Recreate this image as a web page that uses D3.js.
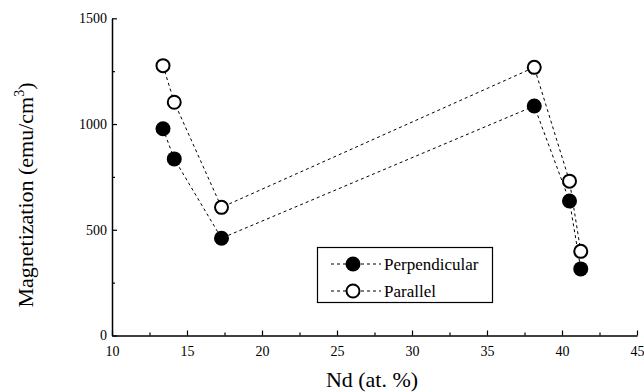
<!DOCTYPE html>
<html>
<head>
<meta charset="utf-8">
<script src="https://cdn.jsdelivr.net/npm/d3@7"></script>
<style>
  body { margin: 0; background: #fff; }
  svg text { font-family: "Liberation Serif", "DejaVu Serif", serif; }
</style>
</head>
<body>
<div id="chart"></div>
<script>
// values
const ndPerp = [13.4, 14.15, 17.3, 38.15, 40.5, 41.25];
const magPerp = [978, 835, 460, 1085, 636, 315];
const ndPar = [13.4, 14.15, 17.3, 38.15, 40.5, 41.25];
const magPar = [1276, 1103, 606, 1268, 730, 398];
const xMajor = [10, 15, 20, 25, 30, 35, 40, 45];
const xMinor = [12.5, 17.5, 22.5, 27.5, 32.5, 37.5, 42.5];
const yMajor = [0, 500, 1000, 1500];
const yMinor = [250, 750, 1250];

const W = 644, H = 392;
const serif = "'Liberation Serif', 'DejaVu Serif', serif";

const svg = d3.select("#chart")
    .append("svg")
    .attr("width", W)
    .attr("height", H)
    .attr("font-family", serif);

const x = d3.scaleLinear().domain([10, 45]).range([112, 637]);
const y = d3.scaleLinear().domain([0, 1500]).range([335.5, 18.3]);

// minor ticks first (no labels)
svg.append("g")
    .attr("transform", `translate(0,${y(0)})`)
    .call(d3.axisBottom(x).tickValues(xMinor).tickSize(-3).tickSizeOuter(0).tickFormat(""))
    .call(g => g.select(".domain").remove());
svg.append("g")
    .attr("transform", `translate(${x(10)},0)`)
    .call(d3.axisLeft(y).tickValues(yMinor).tickSize(-3).tickSizeOuter(0).tickFormat(""))
    .call(g => g.select(".domain").remove());

// major axes
const xAxis = svg.append("g")
    .attr("transform", `translate(0,${y(0)})`)
    .call(d3.axisBottom(x).tickValues(xMajor).tickSize(-5).tickSizeOuter(0)
        .tickPadding(11).tickFormat(d3.format("d")));
const yAxis = svg.append("g")
    .attr("transform", `translate(${x(10)},0)`)
    .call(d3.axisLeft(y).tickValues(yMajor).tickSize(-5).tickSizeOuter(0)
        .tickPadding(5).tickFormat(d3.format("d")));

svg.selectAll("g").attr("font-family", serif);
svg.selectAll(".tick line").attr("stroke", "#000").attr("stroke-width", 1.2);
svg.selectAll(".domain").attr("stroke", "#000").attr("stroke-width", 1.5);
[xAxis, yAxis].forEach(g => g
    .attr("font-size", 14)
    .selectAll("text")
    .attr("fill", "#000"));

// axis titles
svg.append("text")
    .attr("x", 372)
    .attr("y", 387)
    .attr("text-anchor", "middle")
    .attr("font-size", 22)
    .text("Nd (at. %)");

const yt = svg.append("text")
    .attr("transform", "translate(33,195) rotate(-90)")
    .attr("text-anchor", "middle")
    .attr("font-size", 22);
yt.append("tspan").text("Magnetization (emu/cm");
yt.append("tspan").attr("dy", -9).attr("font-size", 14).text("3");
yt.append("tspan").attr("dy", 9).text(")");

// series
const perp = ndPerp.map((d, i) => ({ nd: d, m: magPerp[i] }));
const par = ndPar.map((d, i) => ({ nd: d, m: magPar[i] }));

const line = d3.line()
    .x(d => x(d.nd))
    .y(d => y(d.m));

[perp, par].forEach(s => {
    svg.append("path")
        .datum(s)
        .attr("fill", "none")
        .attr("stroke", "#000")
        .attr("stroke-width", 1)
        .attr("stroke-dasharray", "3,3")
        .attr("d", line);
});

svg.selectAll(".perp")
    .data(perp)
    .enter()
    .append("circle")
    .attr("class", "perp")
    .attr("cx", d => x(d.nd))
    .attr("cy", d => y(d.m))
    .attr("r", 7.5)
    .attr("fill", "#000");

svg.selectAll(".par")
    .data(par)
    .enter()
    .append("circle")
    .attr("class", "par")
    .attr("cx", d => x(d.nd))
    .attr("cy", d => y(d.m))
    .attr("r", 6.5)
    .attr("fill", "#fff")
    .attr("stroke", "#000")
    .attr("stroke-width", 2);

// legend
const legend = svg.append("g").attr("font-family", serif);
legend.append("rect")
    .attr("x", 317.5)
    .attr("y", 247.5)
    .attr("width", 175)
    .attr("height", 55)
    .attr("fill", "#fff")
    .attr("stroke", "#000")
    .attr("stroke-width", 1.2);

const items = [
    { label: "Perpendicular", filled: true, yy: 264 },
    { label: "Parallel", filled: false, yy: 291 }
];
items.forEach(it => {
    legend.append("line")
        .attr("x1", 331).attr("x2", 381)
        .attr("y1", it.yy).attr("y2", it.yy)
        .attr("stroke", "#000")
        .attr("stroke-dasharray", "3,3");
    legend.append("circle")
        .attr("cx", 353)
        .attr("cy", it.yy)
        .attr("r", it.filled ? 7.5 : 6.5)
        .attr("fill", it.filled ? "#000" : "#fff")
        .attr("stroke", "#000")
        .attr("stroke-width", it.filled ? 0 : 2);
    legend.append("text")
        .attr("x", 384)
        .attr("y", it.yy + 6)
        .attr("font-size", 17)
        .text(it.label);
});
</script>
</body>
</html>
